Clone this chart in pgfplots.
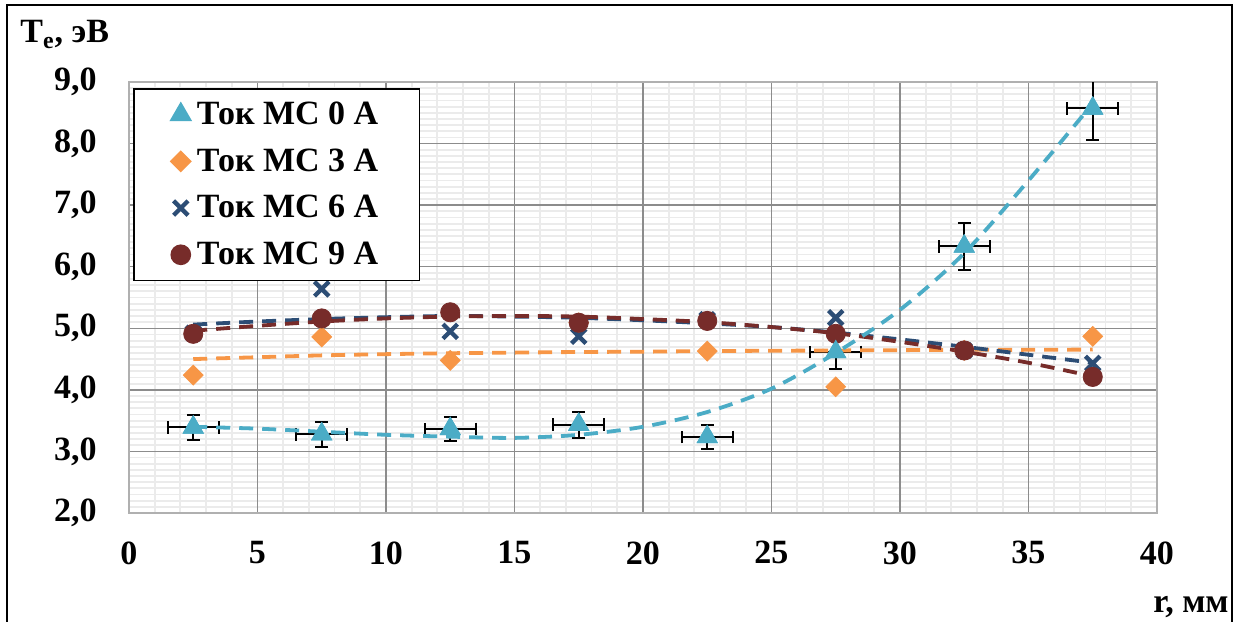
\documentclass[border=0pt]{standalone}
\usepackage{pgfplots}
\pgfplotsset{compat=1.18}
\usepackage{fontspec}
\setmainfont{Liberation Serif}
\definecolor{c0}{HTML}{4BACC6}
\definecolor{c3}{HTML}{F79646}
\definecolor{c6}{HTML}{2C4D75}
\definecolor{c9}{HTML}{772C2A}
\definecolor{majg}{HTML}{8C8C8C}
\definecolor{ming}{HTML}{EBEBEB}
\definecolor{axg}{HTML}{B0B0B0}
\newcommand{\bigb}{\bfseries\fontsize{17}{20}\selectfont}
\begin{document}
\begin{tikzpicture}
\useasboundingbox (-64.5pt,-54.5pt) rectangle (555pt,256.5pt);
\draw[line width=1pt] (-61pt,-70pt) -- (-61pt,254pt) -- (551.5pt,254pt) -- (551.5pt,-70pt);
% minor grid underneath
\begin{axis}[
  at={(0pt,0pt)}, anchor=south west,
  scale only axis, width=514pt, height=215.5pt,
  xmin=0, xmax=40, ymin=2, ymax=9,
  xtick={0,5,...,40}, ytick={2,3,...,9},
  minor x tick num=4, minor y tick num=9,
  grid=minor,
  minor grid style={draw=ming, line width=0.9pt},
  axis line style={draw=none},
  major tick length=0pt, minor tick length=0pt,
  xticklabels={}, yticklabels={},
]
\end{axis}
\begin{axis}[
  at={(0pt,0pt)}, anchor=south west,
  scale only axis, width=514pt, height=215.5pt,
  xmin=0, xmax=40, ymin=2, ymax=9,
  xtick={0,5,...,40}, ytick={2,3,...,9},
  grid=major,
  major grid style={draw=majg, line width=0.75pt},
  axis line style={draw=axg, line width=0.9pt},
  major tick length=0pt, minor tick length=0pt,
  /pgf/number format/assume math mode=true,
  tick label style={font=\bigb},
  yticklabel style={anchor=east, inner sep=0pt, xshift=-16pt,
    /pgf/number format/.cd, fixed, fixed zerofill, precision=1, use comma},
  xticklabel style={anchor=north, inner sep=0pt, yshift=-14pt,
    /pgf/number format/.cd, fixed, precision=0},
  legend cell align=left,
  legend style={at={(0.0039,0.986)}, anchor=north west, draw=black, line width=0.75pt,
    fill=white, font=\bigb, inner xsep=18.5pt, inner ysep=4.5pt, row sep=6.6pt,
    column sep=1pt},
  legend image code/.code={\draw[mark repeat=2, mark phase=2, #1] plot coordinates {(-5pt,0pt) (0pt,0pt) (5pt,0pt)};},
]
% Ток МС 0 А with error bars
\addplot[only marks, mark=triangle*, mark size=5.8pt, color=c0,
  error bars/.cd, x dir=both, x explicit, y dir=both, y explicit,
  error bar style={black, line width=1pt},
  error mark options={rotate=90, black, line width=1pt, mark size=3.2pt}]
  table[x=x, y=y, x error=ex, y error=ey] {
x y ex ey
2.5 3.39 1.0 0.20
7.5 3.28 1.0 0.20
12.5 3.365 1.0 0.20
17.5 3.435 1.0 0.21
22.5 3.235 1.0 0.20
27.5 4.615 1.0 0.27
32.5 6.33 1.0 0.38
37.5 8.57 1.0 0.51
};
\addlegendentry{Ток МС 0 А}
\addplot[only marks, mark=square*, mark size=3.5pt, mark options={rotate=45}, color=c3]
  coordinates {(2.5,4.24) (7.5,4.86) (12.5,4.48) (17.5,5.09) (22.5,4.63) (27.5,4.05) (32.5,4.64) (37.5,4.87)};
\addlegendentry{Ток МС 3 А}
\addplot[only marks, mark=x, mark size=5.1pt, line width=2.2pt, color=c6]
  coordinates {(2.5,4.92) (7.5,5.64) (12.5,4.95) (17.5,4.87) (22.5,5.14) (27.5,5.17) (32.5,4.64) (37.5,4.43)};
\addlegendentry{Ток МС 6 А}
\addplot[only marks, mark=*, mark size=4.8pt, color=c9]
  coordinates {(2.5,4.91) (7.5,5.16) (12.5,5.26) (17.5,5.09) (22.5,5.12) (27.5,4.91) (32.5,4.64) (37.5,4.21)};
\addlegendentry{Ток МС 9 А}
% triangles again on top of their error bars
\addplot[forget plot, only marks, mark=triangle*, mark size=5.8pt, color=c0]
  coordinates {(2.5,3.39) (7.5,3.28) (12.5,3.365) (17.5,3.435) (22.5,3.235) (27.5,4.615) (32.5,6.33) (37.5,8.57)};
% trend lines
\addplot[forget plot, smooth, color=c3, line width=1.9pt, dash pattern=on 7pt off 4.5pt]
  coordinates {(2.5,4.50) (5,4.53) (7.5,4.56) (10,4.58) (12.5,4.595) (15,4.605) (17.5,4.615) (20,4.62) (22.5,4.63) (25,4.635) (27.5,4.64) (30,4.645) (32.5,4.65) (35,4.65) (37.5,4.655)};
\addplot[forget plot, smooth, color=c6, line width=1.9pt, dash pattern=on 7pt off 4.5pt]
  coordinates {(2.5,5.06) (5,5.11) (7.5,5.15) (10,5.18) (12.5,5.20) (15,5.19) (17.5,5.17) (20,5.13) (22.5,5.08) (25,5.02) (27.5,4.93) (30,4.82) (32.5,4.70) (35,4.57) (37.5,4.44)};
\addplot[forget plot, smooth, color=c9, line width=1.9pt, dash pattern=on 7pt off 4.5pt]
  coordinates {(2.5,4.96) (5,5.04) (7.5,5.11) (10,5.16) (12.5,5.19) (15,5.20) (17.5,5.19) (20,5.15) (22.5,5.10) (25,5.02) (27.5,4.92) (30,4.78) (32.5,4.62) (35,4.44) (37.5,4.22)};
\addplot[forget plot, smooth, color=c0, line width=1.9pt, dash pattern=on 7pt off 4.5pt]
  coordinates {(2.5,3.40) (5,3.37) (7.5,3.32) (10,3.27) (12.5,3.24) (15,3.22) (17.5,3.27) (20,3.40) (22.5,3.64) (25,4.02) (27.5,4.60) (30,5.30) (32.5,6.22) (35,7.40) (37.5,8.65)};
\end{axis}
\node[font=\bigb, anchor=base west, inner sep=0pt] at (-54.5pt,235pt) {T\textsubscript{e}, эВ};
\node[font=\bigb, anchor=base east, inner sep=0pt] at (550pt,-49.5pt) {r, мм};
\end{tikzpicture}
\end{document}
